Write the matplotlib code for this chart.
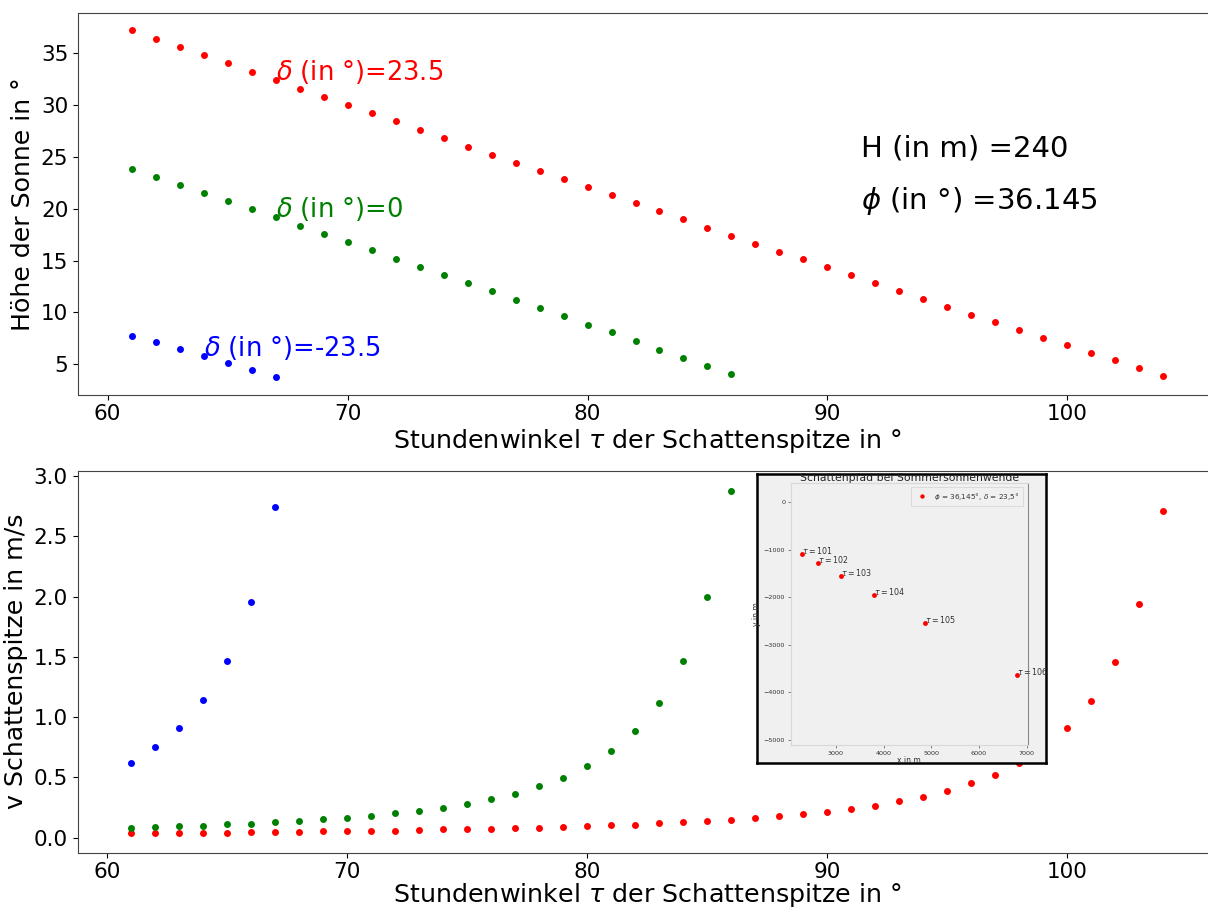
import matplotlib
matplotlib.use("Agg")
import matplotlib.pyplot as plt

# ---------------- data ----------------
tau_red = list(range(61, 105))
tau_green = list(range(61, 87))
tau_blue = list(range(61, 68))

h_red = [37.24, 36.37, 35.60, 34.80, 34.03, 33.19, 32.42, 31.58, 30.81, 29.98,
         29.20, 28.43, 27.59, 26.82, 25.98, 25.21, 24.44, 23.67, 22.84, 22.07,
         21.30, 20.53, 19.75, 18.98, 18.14, 17.37, 16.60, 15.83, 15.12, 14.35,
         13.58, 12.81, 12.04, 11.33, 10.55, 9.78, 9.08, 8.31, 7.57, 6.83,
         6.12, 5.41, 4.61, 3.90]
h_green = [23.80, 23.03, 22.26, 21.49, 20.72, 19.95, 19.18, 18.34, 17.57, 16.79,
           16.02, 15.18, 14.41, 13.64, 12.81, 12.04, 11.20, 10.43, 9.66, 8.82,
           8.08, 7.25, 6.41, 5.64, 4.81, 4.04]
h_blue = [7.76, 7.12, 6.48, 5.77, 5.10, 4.45, 3.78]

v_red = [0.036, 0.036, 0.036, 0.041, 0.041, 0.047, 0.047, 0.047, 0.053, 0.053,
         0.058, 0.058, 0.064, 0.069, 0.069, 0.075, 0.078, 0.083, 0.089, 0.094,
         0.103, 0.108, 0.119, 0.130, 0.138, 0.149, 0.166, 0.180, 0.196, 0.216,
         0.240, 0.265, 0.302, 0.338, 0.390, 0.451, 0.523, 0.622, 0.740, 0.907,
         1.136, 1.457, 1.938, 2.712]
v_green = [0.078, 0.091, 0.097, 0.100, 0.111, 0.116, 0.128, 0.138, 0.152, 0.166,
           0.183, 0.202, 0.221, 0.246, 0.282, 0.318, 0.365, 0.426, 0.498, 0.595,
           0.716, 0.885, 1.120, 1.463, 1.993, 2.875]
v_blue = [0.619, 0.750, 0.912, 1.142, 1.468, 1.957, 2.745]

delta_labels = ["23.5", "0", "-23.5"]
H_value = "240"
phi_value = "36.145"

# inset (shadow path at summer solstice)
path_tau = [101, 102, 103, 104, 105, 106]
path_x = [2286, 2634, 3111, 3790, 4861, 6794]
path_y = [-1088, -1284, -1552, -1945, -2547, -3642]
inset_xticks = [3000, 4000, 5000, 6000, 7000]
inset_yticks = [0, -1000, -2000, -3000, -4000, -5000]

# ---------------- figure ----------------
W, H = 1208, 908
fig = plt.figure(figsize=(W / 100, H / 100), dpi=100)

def fig_rect(x0, y0, x1, y1):
    return [x0 / W, 1 - y1 / H, (x1 - x0) / W, (y1 - y0) / H]

ax1 = fig.add_axes(fig_rect(78, 12.7, 1217, 394.7))
ax2 = fig.add_axes(fig_rect(77.5, 470.7, 1216.5, 852.7))

ms = 5.0
for ax, (yr, yg, yb) in ((ax1, (h_red, h_green, h_blue)), (ax2, (v_red, v_green, v_blue))):
    ax.plot(tau_red, yr, 'o', color='red', ms=ms, mew=0)
    ax.plot(tau_green, yg, 'o', color='green', ms=ms, mew=0)
    ax.plot(tau_blue, yb, 'o', color='blue', ms=ms, mew=0)
    ax.set_xlim(58.77, 106.23)
    ax.set_xticks([60, 70, 80, 90, 100])
    ax.tick_params(labelsize=15.5)

ax1.set_xlabel(r"Stundenwinkel $\tau$ der Schattenspitze in °", fontsize=18.3, labelpad=1.5)
ax2.set_xlabel(r"Stundenwinkel $\tau$ der Schattenspitze in °", fontsize=18.3, labelpad=-1)

ax1.set_ylim(2.07, 38.9)
ax1.set_yticks([5, 10, 15, 20, 25, 30, 35])
ax1.set_ylabel("Höhe der Sonne in °", fontsize=18.2)
ax2.set_ylim(-0.124, 3.043)
ax2.set_yticks([0.0, 0.5, 1.0, 1.5, 2.0, 2.5, 3.0])
ax2.set_ylabel("v Schattenspitze in m/s", fontsize=18.2)

# delta labels
ax1.text(tau_red[6], h_red[6], r"$\delta$ (in °)=" + delta_labels[0], color='red', fontsize=18.5)
ax1.text(tau_green[6], h_green[6], r"$\delta$ (in °)=" + delta_labels[1], color='green', fontsize=18.5)
ax1.text(tau_blue[3], h_blue[3], r"$\delta$ (in °)=" + delta_labels[2], color='blue', fontsize=18.5)

ax1.text(91.4, 25.0, "H (in m) =" + H_value, color='black', fontsize=21)
ax1.text(91.4, 20.0, r"$\phi$ (in °) =" + phi_value, color='black', fontsize=21)

for ax in (ax1, ax2):
    for s in ax.spines.values():
        s.set_color('#444444')

# ---------------- inset ----------------
bg = '#f0f0f0'
ins_frame = fig.add_axes(fig_rect(757, 474, 1046, 763))
ins_frame.set_facecolor(bg)
ins_frame.set_xticks([])
ins_frame.set_yticks([])
for s in ins_frame.spines.values():
    s.set_color('black')
    s.set_linewidth(1.8)
ins_frame.set_zorder(5)

ins = fig.add_axes(fig_rect(790.7, 483, 1027.7, 745))
ins.set_zorder(6)
ins.set_facecolor(bg)
ins.plot(path_x, path_y, 'o', color='red', ms=3.5, mew=0,
         label=r"$\phi$ = 36,145°, $\delta$ = 23,5°")
for t, x, y in zip(path_tau, path_x, path_y):
    ins.text(x, y, r"$\tau = %d$" % t, fontsize=5.7, color='#333333')
ins.set_xlim(2055, 7021)
ins.set_ylim(-5105, 406)
ins.set_xticks(inset_xticks)
ins.set_yticks(inset_yticks)
ins.tick_params(labelsize=4.6, colors='#555555', length=2, width=0.5, pad=2)
for lbl in ins.get_xticklabels() + ins.get_yticklabels():
    lbl.set_color('#333333')
for name, s in ins.spines.items():
    s.set_color('#d8d8d8')
    s.set_linewidth(0.8)
ins.spines['right'].set_color('#888888')
ins.set_xlabel("x in m", fontsize=5.5, color='#333333', labelpad=0)
ins.set_ylabel("y in m", fontsize=5.5, color='#333333')
ins.yaxis.set_label_coords(-0.125, 0.5)
ins.set_title("Schattenpfad bei Sommersonnenwende", fontsize=7.8, color='#222222', pad=0.5)
leg = ins.legend(loc='upper right', fontsize=5.2, frameon=True, markerscale=0.9,
                 handletextpad=0.7, borderpad=0.2, borderaxespad=0.9)
leg.get_frame().set_facecolor(bg)
leg.get_frame().set_edgecolor('#cccccc')
leg.get_frame().set_linewidth(0.5)
leg.get_frame().set_boxstyle('square')
for txt in leg.get_texts():
    txt.set_color('#333333')

fig.savefig("out.png", dpi=100)
